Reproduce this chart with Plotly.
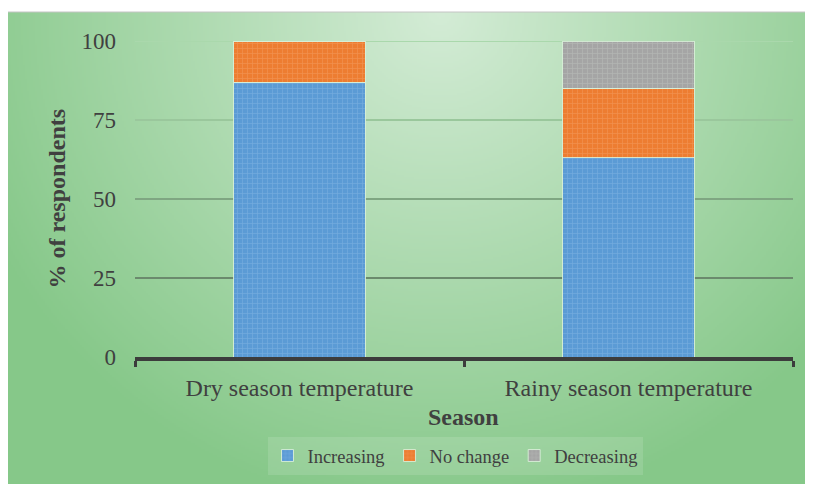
import base64
import struct
import zlib

import numpy as np
import plotly.graph_objects as go

# ---------------- data ----------------
categories = ["Dry season temperature", "Rainy season temperature"]
increasing = [87, 63]
no_change = [13, 22]
decreasing = [0, 15]
y_ticks = [0, 25, 50, 75, 100]
grid_vals = [25, 50, 75, 100]

# ---------------- styling ----------------
W, H = 813, 484
OX, OY = 8, 8          # page offset of the figure (body margin)
FONT = "Liberation Serif"
TXT = "#404040"


def fx(px):
    return (px - OX) / W


def fy(py):
    return 1 - (py - OY) / H


def gradient_png(w, h):
    """Radial green gradient (card background) as a PNG data URI."""
    ys, xs = np.mgrid[0:h, 0:w]
    cx, cy = 0.53 * w, 0.0 * h
    d = np.sqrt(((xs - cx) / (0.62 * w)) ** 2 + ((ys - cy) / (1.05 * h)) ** 2)
    d = np.clip(d, 0, 1)[..., None]
    c0 = np.array([212, 236, 214], float)
    c1 = np.array([134, 200, 137], float)
    img = (c0 * (1 - d) + c1 * d).astype(np.uint8)
    raw = b"".join(b"\x00" + img[r].tobytes() for r in range(h))

    def chunk(t, data):
        c = struct.pack(">I", len(data)) + t + data
        return c + struct.pack(">I", zlib.crc32(t + data) & 0xFFFFFFFF)

    png = b"\x89PNG\r\n\x1a\n"
    png += chunk(b"IHDR", struct.pack(">IIBBBBB", w, h, 8, 2, 0, 0, 0))
    png += chunk(b"IDAT", zlib.compress(raw, 9))
    png += chunk(b"IEND", b"")
    return "data:image/png;base64," + base64.b64encode(png).decode()


card_top = 12  # page px

series = [
    ("Increasing", increasing, "#5b9bd5", "#8dbbe6"),
    ("No change", no_change, "#ed7d31", "#f4a66e"),
    ("Decreasing", decreasing, "#a5a5a5", "#c3c7c3"),
]

fig = go.Figure()
for name, vals, col, fg in series:
    fig.add_trace(
        go.Bar(
            name=name,
            x=categories,
            y=vals,
            marker=dict(
                color=col,
                line=dict(color="rgba(215,238,215,0.9)", width=1),
                pattern=dict(shape="+", fgcolor=fg, bgcolor=col, size=5, solidity=0.25),
            ),
        )
    )

grid_colors = ["#6b8a6d", "#7fa682", "#9ac79c", "#aad8ac"]
shapes = []
for v, gc in zip(grid_vals, grid_colors):
    shapes.append(
        dict(type="line", xref="x domain", yref="y", x0=0, x1=1, y0=v, y1=v,
             line=dict(color=gc, width=2), layer="below")
    )
# card top border
shapes.append(
    dict(type="line", xref="paper", yref="paper", x0=0, x1=1,
         y0=fy(card_top), y1=fy(card_top), line=dict(color="#c4c4c4", width=1))
)

fig.update_layout(
    width=W,
    height=H,
    margin=dict(l=0, r=0, t=0, b=0),
    paper_bgcolor="white",
    plot_bgcolor="rgba(0,0,0,0)",
    barmode="stack",
    bargap=0.6,
    font=dict(family=FONT, color=TXT, size=24),
    showlegend=True,
    legend=dict(
        orientation="h",
        x=fx(455),
        xanchor="center",
        y=fy(456),
        yanchor="middle",
        bgcolor="rgba(255,255,255,0.12)",
        font=dict(family=FONT, size=18.5, color=TXT),
        traceorder="normal",
        itemwidth=30,
    ),
    xaxis=dict(
        domain=[fx(135), fx(793)],
        showline=True,
        linecolor="#3c3c3c",
        linewidth=4,
        ticks="outside",
        tickson="boundaries",
        ticklen=6,
        tickwidth=3,
        tickcolor="#3c3c3c",
        showgrid=False,
        automargin=False,
        tickfont=dict(family=FONT, size=24, color=TXT),
        ticklabelstandoff=6,
    ),
    yaxis=dict(
        domain=[fy(357), fy(41)],
        range=[0, 100],
        tickvals=y_ticks,
        showgrid=False,
        zeroline=False,
        showline=False,
        ticks="",
        automargin=False,
        tickfont=dict(family=FONT, size=23, color=TXT),
        ticklabelstandoff=18,
    ),
    images=[
        dict(
            source=gradient_png(403, 240),
            xref="paper",
            yref="paper",
            x=0,
            y=fy(card_top),
            sizex=1,
            sizey=fy(card_top),
            xanchor="left",
            yanchor="top",
            sizing="stretch",
            layer="below",
        )
    ],
    shapes=shapes,
    annotations=[
        dict(
            text="<b>% of respondents</b>",
            xref="paper",
            yref="paper",
            x=fx(56.5),
            y=fy(199),
            textangle=-90,
            showarrow=False,
            font=dict(family=FONT, size=24, color=TXT),
            xanchor="center",
            yanchor="middle",
        ),
        dict(
            text="<b>Season</b>",
            xref="paper",
            yref="paper",
            x=fx(463),
            y=fy(417),
            showarrow=False,
            font=dict(family=FONT, size=24, color=TXT),
            xanchor="center",
            yanchor="middle",
        ),
    ],
)

fig.write_html("out.html")
